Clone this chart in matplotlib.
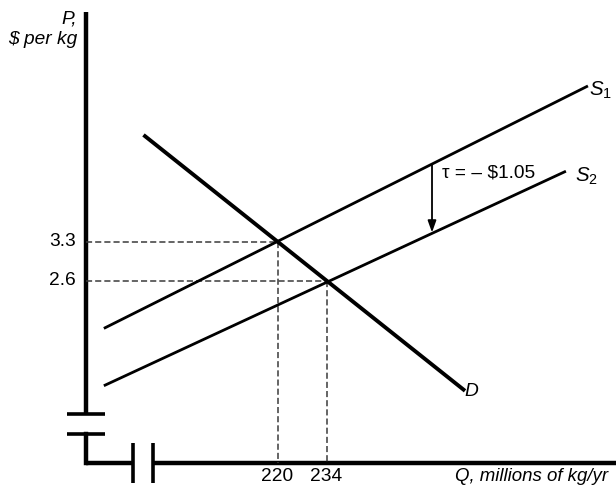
"""Subsidy on a supply curve: S1 shifts down to S2, equilibrium moves along D."""

import matplotlib

matplotlib.use("Agg")
import matplotlib.pyplot as plt

plt.rcParams["font.family"] = ["Liberation Sans", "DejaVu Sans"]
plt.rcParams["mathtext.fontset"] = "custom"
plt.rcParams["mathtext.it"] = "Liberation Sans:italic"
plt.rcParams["mathtext.rm"] = "Liberation Sans"

# ---- data (Q in millions of kg/yr, P in $ per kg) ----
eq_q = [220, 234]          # before / after subsidy
eq_p = [3.3, 2.6]
tick_q_labels = ["220", "234"]
tick_p_labels = ["3.3", "2.6"]

demand_q = [182, 273]
demand_p = [5.2, 0.65]
supply1_q = [170.6, 308.2]
supply1_p = [1.76, 6.09]
supply2_q = [170.6, 301.9]
supply2_p = [0.73, 4.56]
subsidy_q = 264
subsidy_from_p = 4.69      # on S1
subsidy_to_p = 3.47        # on S2
subsidy_label = "τ = – \\$1.05"

# axis geometry in data units (axes are broken near origin)
axis_q = 165.1
axis_p = -0.667
top_p = 7.43
right_q = 317
vbreak = [0.213, -0.146]   # P where vertical axis is cut
hbreak = [178.6, 184.3]    # Q where horizontal axis is cut

FS = 13.8

fig = plt.figure(figsize=(6.16, 4.91), dpi=100)
ax = fig.add_axes([0, 0, 1, 1])
ax.set_xlim(140.57, 316.57)
ax.set_ylim(-1.17, 7.644)
ax.axis("off")

k = "black"
# vertical axis with break
ax.plot([axis_q, axis_q], [top_p, vbreak[0]], color=k, lw=3.2, solid_capstyle="butt")
ax.plot([axis_q, axis_q], [vbreak[1], axis_p], color=k, lw=3.2, solid_capstyle="projecting")
for p in vbreak:
    ax.plot([axis_q - 5.5, axis_q + 5.5], [p, p], color=k, lw=2.6, solid_capstyle="butt")
# horizontal axis with break
ax.plot([axis_q, hbreak[0]], [axis_p, axis_p], color=k, lw=3.2, solid_capstyle="butt")
ax.plot([hbreak[1], right_q], [axis_p, axis_p], color=k, lw=3.2, solid_capstyle="butt")
for q in hbreak:
    ax.plot([q, q], [axis_p - 0.36, axis_p + 0.36], color=k, lw=2.6, solid_capstyle="butt")

# dashed guides
for q, p in zip(eq_q, eq_p):
    ax.plot([axis_q, q], [p, p], color="#3a3a3a", lw=1.1, ls=(0, (4, 2)))
    ax.plot([q, q], [p, axis_p], color="#3a3a3a", lw=1.1, ls=(0, (4, 2)))

# curves
ax.plot(supply1_q, supply1_p, color=k, lw=2.0)
ax.plot(supply2_q, supply2_p, color=k, lw=2.0)
ax.plot(demand_q, demand_p, color=k, lw=2.8)

# subsidy arrow
ax.annotate("", xy=(subsidy_q, subsidy_to_p), xytext=(subsidy_q, subsidy_from_p),
            arrowprops=dict(arrowstyle="-|>,head_length=0.7,head_width=0.25",
                            color=k, lw=1.3, shrinkA=0, shrinkB=0))
ax.text(266.9, 4.54, subsidy_label, fontsize=FS, ha="left", va="center")

# curve labels
ax.text(308.9, 6.03, r"$S_1$", fontsize=FS + 1, ha="left", va="center")
ax.text(304.9, 4.48, r"$S_2$", fontsize=FS + 1, ha="left", va="center")
ax.text(273.4, 0.62, "D", fontsize=FS, style="italic", ha="left", va="center")

# tick labels
for p, lab in zip(eq_p, tick_p_labels):
    ax.text(axis_q - 2.9, p, lab, fontsize=FS, ha="right", va="center")
for q, lab in zip(eq_q, tick_q_labels):
    ax.text(q - 0.3, axis_p - 0.24, lab, fontsize=FS, ha="center", va="center")

# axis titles
ax.text(axis_q - 2.4, 7.30, "P,", fontsize=FS, style="italic", ha="right", va="center")
ax.text(axis_q - 2.3, 6.93, "\\$ per kg", fontsize=FS, style="italic", ha="right", va="center")
ax.text(270.6, axis_p - 0.24, "Q, millions of kg/yr", fontsize=13.4, style="italic",
        ha="left", va="center")

fig.savefig("out.png", dpi=100)
